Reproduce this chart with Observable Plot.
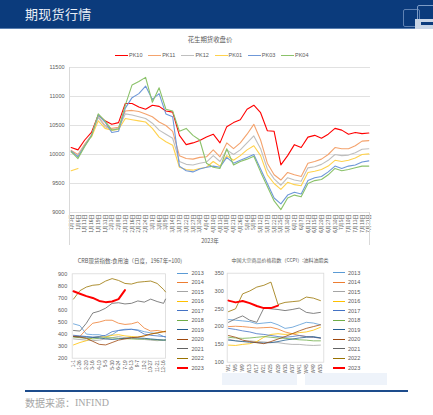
<!DOCTYPE html>
<html><head><meta charset="utf-8">
<script src="https://cdn.jsdelivr.net/npm/d3@7"></script>
<script src="https://cdn.jsdelivr.net/npm/@observablehq/plot@0.6"></script>
<style>
body{margin:0;width:433px;height:415px;position:relative;background:#fff;overflow:hidden;font-family:"Noto Sans CJK SC","Noto Sans",sans-serif;}
.abs{position:absolute;white-space:nowrap;}
svg{overflow:visible;}
</style></head><body>
<div id="root"></div>
<script>
// ---------- main chart data ----------
const dates = ["1月3日","1月6日","1月11日","1月16日","1月19日","1月31日","2月3日","2月8日","2月13日","2月16日","2月21日","2月24日","3月1日","3月6日","3月9日","3月14日","3月17日","3月22日","3月27日","3月30日","4月4日","4月10日","4月13日","4月18日","4月21日","4月26日","5月4日","5月9日","5月12日","5月17日","5月22日","5月25日","5月30日","6月2日","6月7日","6月12日","6月15日","6月20日","6月27日","6月30日","7月5日","7月10日","7月13日","7月18日","7月21日"];
const contracts = ["PK10","PK11","PK12","PK01","PK03","PK04"];
const contractColors = ["#FF0000","#F4A36D","#BFBFBF","#FFD24D","#6F98D8","#8BC26A"];
const pk10 = [10120,10080,10250,10380,10680,10580,10520,10550,10880,10880,10820,10780,10850,10830,10750,10730,10330,10170,10200,10240,10300,10350,10200,10480,10550,10600,10780,10850,10720,10410,10400,9820,9980,10170,10120,10300,10330,10280,10350,10450,10420,10350,10380,10360,10370];
const pk11 = [10070,10000,10180,10330,10650,10500,10450,10470,10750,10760,10740,10700,10650,10560,10500,10400,9980,9930,9920,9950,9960,10080,9960,10200,10100,10200,10350,10520,10250,9850,9650,9560,9690,9650,9620,9850,9880,9920,10000,10120,10100,10100,10150,10230,10240];
const pk12 = [10040,9980,10160,10320,10640,10480,10430,10450,10700,10680,10650,10620,10540,10420,10350,10280,9880,9830,9820,9850,9870,9980,9880,10080,10000,10080,10200,10320,10100,9750,9580,9470,9600,9560,9540,9770,9790,9830,9900,10000,9980,9990,10030,10090,10100];
const pk01 = [9720,9760,null,10300,10580,10450,10420,10430,10620,10600,10580,10560,10450,10300,10220,10160,9780,9740,9730,9760,9780,9880,9800,9980,9900,9980,10080,10150,9980,9650,9500,9400,9520,9480,9460,9690,9710,9740,9800,9900,9880,9900,9940,10000,10010];
const pk03 = [10060,9960,10150,10330,10680,10560,10380,10400,10800,10980,11050,11180,10950,11050,10700,10650,9800,9720,9700,9750,9780,9800,9780,9950,9850,9900,9950,10000,9750,9500,9250,9150,9300,9350,9320,9550,9600,9620,9700,9800,9760,9800,9820,9870,9890];
const pk04 = [10050,9930,10140,10320,10700,10580,10420,10440,10850,11200,11260,11330,10900,11150,10780,10750,10400,10450,10330,10250,9850,9780,9760,10100,9820,9880,9920,9970,9700,9450,9200,9050,9250,9300,9270,9500,9550,9570,9650,9760,9720,9740,9770,9800,9800];
const mainTicks = [9000,9500,10000,10500,11000,11500];

// ---------- CRB edible oil (daily, shown at 25-day ticks) ----------
const years = ["2013","2014","2015","2016","2017","2018","2019","2020","2021","2022","2023"];
const yearColors = ["#5B9BD5","#ED7D31","#A5A5A5","#FFC000","#4472C4","#70AD47","#255E91","#9E480E","#636363","#997300","#FF0000"];
const crbLabels = ["1-1","1-26","2-20","3-16","4-10","5-5","5-30","6-24","7-19","8-13","9-7","10-2","10-27","11-21","12-16"];
const crbX = [0,1,2,3,4,5,6,7,8,9,10,11,12,13,14,14.3];
const crb2013 = [485,470,400,395,395,380,395,430,440,440,435,420,410,405,380,375];
const crb2014 = [385,380,440,490,500,515,515,490,480,485,500,450,425,430,420,418];
const crb2015 = [360,355,350,345,350,360,370,380,370,365,360,355,350,345,350,350];
const crb2016 = [310,330,345,370,380,375,390,395,385,380,375,385,400,410,420,425];
const crb2017 = [390,385,380,375,380,390,420,430,435,440,430,400,390,385,380,378];
const crb2018 = [375,370,365,360,365,370,368,365,362,360,358,360,355,352,350,350];
const crb2019 = [380,378,375,372,370,360,355,360,365,370,368,365,360,355,350,352];
const crb2020 = [380,375,365,340,315,310,330,350,360,370,375,385,400,410,420,422];
const crb2021 = [430,425,490,575,590,615,655,660,650,655,675,665,690,670,655,690];
const crb2022 = [690,760,790,805,810,840,860,845,820,815,830,835,840,820,770,750];
const crb2023 = [755,735,715,700,675,665,670,690,765];
const crbTicks = [200,300,400,500,600,700,800,900];

// ---------- CCPI oilseeds & oils (weekly) ----------
const ccpiWeeks = [1,5,9,13,17,21,25,29,33,37,41,45,49,53];
const ccpi2013 = [220,218,216,214,208,210,212,205,195,198,205,212,210,205];
const ccpi2014 = [200,201,200,198,196,197,198,193,185,180,175,172,170,168];
const ccpi2015 = [165,160,158,160,158,157,155,155,152,150,150,148,147,148];
const ccpi2016 = [148,147,150,152,158,170,178,180,178,180,183,185,190,198];
const ccpi2017 = [195,192,188,185,180,178,175,172,170,172,175,172,170,168];
const ccpi2018 = [170,168,167,168,170,172,170,168,167,165,163,162,160,160];
const ccpi2019 = [162,160,158,156,155,154,155,158,162,165,168,170,172,168];
const ccpi2020 = [175,170,162,158,155,152,158,165,172,180,188,195,200,205];
const ccpi2021 = [212,222,230,218,212,252,250,248,245,248,252,240,237,240];
const ccpi2022 = [242,250,292,300,311,316,325,262,268,270,272,283,280,273];
const ccpi2023 = [273,268,272,266,258,252,252,259];
const ccpiTicks = [100,150,200,250,300,350];

// ---------- helpers ----------
const root = document.getElementById("root");
function box(style, text){const d=document.createElement("div");d.className="abs";d.style.cssText=style;if(text!=null)d.textContent=text;root.appendChild(d);return d;}
function place(svg,left,top){const d=box(`left:${left}px;top:${top}px;`);d.appendChild(svg);}
const FONT = '"Liberation Sans","Noto Sans CJK SC",sans-serif';
const TXT = "#595959";

// header
box("left:0;top:0;width:433px;height:29px;background:#0b3b7c;");
box("left:0;top:28px;width:433px;height:1px;background:#5a7fb0;");
box(`left:25px;top:4px;color:#e9eef6;font-size:13px;line-height:20px;font-family:"Noto Sans CJK SC";letter-spacing:0.3px;`, "期现货行情");
box("left:403px;top:9px;width:15px;height:16px;border:1px solid #5f82b3;border-radius:2px;");
box("left:417px;top:5px;width:16px;height:16px;border:1px solid #7d9cc6;border-radius:2px;");
box("left:415px;top:19px;width:18px;height:10px;background:#c8d5e6;");
box("left:421px;top:22px;width:12px;height:3px;background:#0b3b7c;");

// main title + legend
box(`left:0;top:34px;width:420px;text-align:center;font-size:6.4px;color:${TXT};font-family:"Noto Sans CJK SC";line-height:12px;`, "花生期货收盘价");
contracts.forEach((c,i)=>{
  const x = 115 + i*33.2;
  box(`left:${x}px;top:54.5px;width:13px;height:1.3px;background:${contractColors[i]};`);
  box(`left:${x+14}px;top:51px;font-size:5.5px;line-height:8px;color:${TXT};font-family:${FONT};`, c);
});

// main chart
const mainRows = [];
[pk10,pk11,pk12,pk01,pk03,pk04].forEach((arr,k)=>arr.forEach((v,i)=>mainRows.push({date:dates[i],v:v==null?NaN:v,name:contracts[k]})));
const mainPlot = Plot.plot({
  width:433, height:190, marginLeft:69, marginRight:63, marginTop:7, marginBottom:38,
  style:{fontFamily:FONT, fontSize:"5.5px", color:TXT, background:"transparent"},
  x:{type:"point", domain:dates, padding:0.25, label:null},
  y:{domain:[9000,11500], label:null},
  color:{domain:contracts, range:contractColors},
  marks:[
    Plot.ruleY(mainTicks,{stroke:"#d9d9d9",strokeWidth:0.8}),
    Plot.axisY({ticks:mainTicks, tickSize:0, tickPadding:5, tickFormat:d=>String(d), fill:TXT, fontSize:5.5, label:null}),
    Plot.axisX({tickSize:0, tickPadding:2, tickRotate:-90, fontSize:5, fill:TXT, fontFamily:'"Noto Sans CJK SC"', label:null}),
    Plot.lineY(mainRows,{x:"date",y:"v",z:"name",stroke:"name",strokeWidth:1.1})
  ]
});
place(mainPlot,0,60);
box("left:69px;top:67px;width:0;height:178px;border-left:0.8px solid #d9d9d9;");
box("left:368.5px;top:212px;width:0;height:33px;border-left:0.8px solid #d9d9d9;");
box(`left:190px;top:236px;width:40px;text-align:center;font-size:5.5px;line-height:10px;color:${TXT};font-family:"Noto Sans CJK SC";`, "2023年");

// CRB chart
const crbSeries = [crb2013,crb2014,crb2015,crb2016,crb2017,crb2018,crb2019,crb2020,crb2021,crb2022,crb2023];
const crbRows = [];
crbSeries.forEach((arr,k)=>arr.forEach((v,i)=>crbRows.push({x:crbX[i],v,year:years[k]})));
box(`left:60px;top:256px;width:140px;text-align:center;font-size:5.5px;line-height:10px;color:${TXT};font-family:"Noto Sans CJK SC";`, "CRB现货指数:食用油（日度，1967年=100)");
const crbPlot = Plot.plot({
  width:200, height:125, marginLeft:71.7, marginRight:35, marginTop:18.3, marginBottom:22.3,
  style:{fontFamily:FONT, fontSize:"5.5px", color:TXT, background:"transparent"},
  x:{domain:[-0.2,14.3], label:null},
  y:{domain:[200,900], label:null},
  color:{domain:years, range:yearColors},
  marks:[
    Plot.frame({stroke:"#d9d9d9",strokeWidth:0.8}),
    Plot.axisY({ticks:crbTicks, tickSize:0, tickPadding:5, fill:TXT, fontSize:5.5, label:null}),
    Plot.axisX({ticks:d3.range(15), tickFormat:i=>crbLabels[i], tickSize:0, tickPadding:2, tickRotate:-90, fontSize:4.8, fill:TXT, label:null}),
    Plot.lineY(crbRows.filter(d=>d.year!=="2023"),{x:"x",y:"v",z:"year",stroke:"year",strokeWidth:0.8}),
    Plot.lineY(crbRows.filter(d=>d.year==="2023"),{x:"x",y:"v",stroke:"year",strokeWidth:2})
  ]
});
place(crbPlot,0,255);
years.forEach((y,i)=>{
  const top = 273 + i*9.47;
  box(`left:177px;top:${top-(i===10?1:0.5)}px;width:11px;height:${i===10?2:1}px;background:${yearColors[i]};`);
  box(`left:191.5px;top:${top-4}px;font-size:5.5px;line-height:8px;color:${TXT};font-family:${FONT};`, y);
});

// CCPI chart
const ccpiSeries = [ccpi2013,ccpi2014,ccpi2015,ccpi2016,ccpi2017,ccpi2018,ccpi2019,ccpi2020,ccpi2021,ccpi2022,ccpi2023];
const ccpiRows = [];
ccpiSeries.forEach((arr,k)=>arr.forEach((v,i)=>ccpiRows.push({w:ccpiWeeks[i],v,year:years[k]})));
box(`left:205px;top:255px;width:150px;text-align:center;font-size:5px;line-height:10px;color:${TXT};font-family:"Noto Sans CJK SC";`, "中国大宗商品价格指数（CCPI）:油料油脂类");
const ccpiPlot = Plot.plot({
  width:125, height:125, marginLeft:21.7, marginRight:6.7, marginTop:17.7, marginBottom:18.3,
  style:{fontFamily:FONT, fontSize:"5.5px", color:TXT, background:"transparent"},
  x:{domain:[0.27,54.9], label:null},
  y:{domain:[100,350], label:null},
  color:{domain:years, range:yearColors},
  marks:[
    Plot.frame({stroke:"#d9d9d9",strokeWidth:0.8}),
    Plot.axisY({ticks:ccpiTicks, tickSize:0, tickPadding:3.4, fill:TXT, fontSize:5.5, label:null}),
    Plot.axisX({ticks:ccpiWeeks, tickFormat:w=>"W"+w, tickSize:0, tickPadding:2, tickRotate:-90, fontSize:4.8, fill:TXT, label:null}),
    Plot.lineY(ccpiRows.filter(d=>d.year!=="2023"),{x:"w",y:"v",z:"year",stroke:"year",strokeWidth:0.8}),
    Plot.lineY(ccpiRows.filter(d=>d.year==="2023"),{x:"w",y:"v",stroke:"year",strokeWidth:2})
  ]
});
place(ccpiPlot,205,255);
years.forEach((y,i)=>{
  const top = 272.7 + i*9.5;
  box(`left:333px;top:${top-(i===10?1:0.5)}px;width:12px;height:${i===10?2:1}px;background:${yearColors[i]};`);
  box(`left:348px;top:${top-4}px;font-size:5.5px;line-height:8px;color:${TXT};font-family:${FONT};`, y);
});

// faint watermark blocks + footer
box("left:222px;top:373px;width:75px;height:12px;background:#eef3fa;");
box("left:305px;top:373px;width:82px;height:12px;background:#eef3fa;");
box("left:25px;top:390px;width:383px;height:2px;background:#1d4c8c;");
box(`left:25px;top:396px;font-size:10px;line-height:14px;color:#a6a6a6;font-family:"Noto Sans CJK SC";`, "数据来源：");
box(`left:75px;top:396px;font-size:10px;line-height:14px;color:#a6a6a6;font-family:"Liberation Serif";`, "INFIND");
</script>
</body></html>
